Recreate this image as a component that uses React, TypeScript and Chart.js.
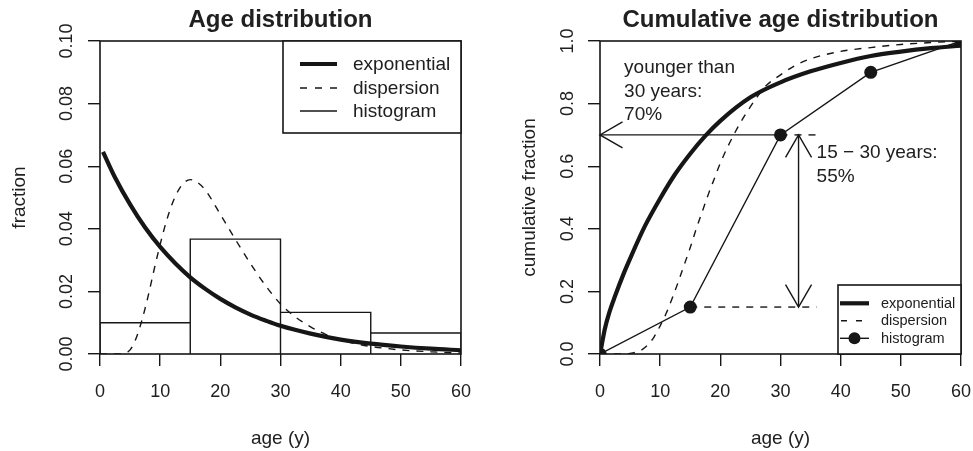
import React, { useEffect, useRef } from 'react';
import { Chart, registerables } from 'chart.js';

Chart.register(...registerables);

const FONT = '"Liberation Sans", Arial, Helvetica, sans-serif';
const INK = '#161616';
const TXT = '#202020';

// ---------- Left panel: age distribution (density) ----------
const histEdges = [0, 15, 30, 45, 60];
const histDensity = [0.01, 0.0367, 0.0133, 0.0067];

const expAge = [0.5, 2.5, 5, 7.5, 10, 12.5, 15, 17.5, 20, 22.5, 25, 27.5, 30, 35, 40, 45, 50, 55, 60];
const expDensity = [0.0646, 0.0564, 0.0478, 0.0404, 0.0342, 0.029, 0.0245, 0.0208, 0.0176, 0.0149, 0.0126, 0.0107, 0.009, 0.0065, 0.0046, 0.0033, 0.0024, 0.0017, 0.0012];

const dispAge = [0, 3, 4, 5, 6, 7, 8, 9, 10, 11, 12, 13, 14, 15, 16, 17.5, 20, 22.5, 25, 27.5, 30, 32.5, 35, 37.5, 40, 42.5, 45, 47.5, 50, 55, 60];
const dispDensity = [0, 0, 0.0002, 0.0013, 0.005, 0.011, 0.0185, 0.027, 0.035, 0.0422, 0.048, 0.0522, 0.0548, 0.0557, 0.0551, 0.0524, 0.0446, 0.0366, 0.0289, 0.0219, 0.016, 0.0118, 0.0087, 0.0063, 0.0045, 0.0033, 0.0024, 0.0018, 0.0013, 0.0007, 0.0003];

// ---------- Right panel: cumulative distribution ----------
const cumExpAge = [0, 0.3, 0.8, 1.5, 2.5, 4, 5, 7.5, 10, 12.5, 15, 17.5, 20, 25, 30, 35, 40, 45, 50, 55, 60];
const cumExpFrac = [0, 0.03, 0.08, 0.13, 0.185, 0.26, 0.305, 0.41, 0.497, 0.575, 0.64, 0.697, 0.745, 0.82, 0.868, 0.903, 0.93, 0.952, 0.966, 0.977, 0.985];

const cumDispAge = [0, 4, 5, 6, 7, 8, 9, 10, 11, 12, 13, 14, 15, 16, 17, 18, 19, 20, 22.5, 25, 27.5, 30, 32.5, 35, 40, 45, 50, 55, 60];
const cumDispFrac = [0, 0, 0.002, 0.006, 0.014, 0.03, 0.055, 0.09, 0.13, 0.178, 0.23, 0.285, 0.34, 0.4, 0.455, 0.51, 0.56, 0.61, 0.71, 0.79, 0.855, 0.892, 0.922, 0.943, 0.967, 0.979, 0.989, 0.995, 1.0];

const histCumAge = [0, 15, 30, 45, 60];
const histCumFrac = [0, 0.15, 0.7, 0.9, 1.0];

// ---------- Axes ----------
const AGE_TICKS = [0, 10, 20, 30, 40, 50, 60];
const FRACTION_TICKS = [0, 0.02, 0.04, 0.06, 0.08, 0.1];
const FRACTION_LABELS = ['0.00', '0.02', '0.04', '0.06', '0.08', '0.10'];
const CUM_TICKS = [0, 0.2, 0.4, 0.6, 0.8, 1.0];
const CUM_LABELS = ['0.0', '0.2', '0.4', '0.6', '0.8', '1.0'];

const LEGEND_LABELS = ['exponential', 'dispersion', 'histogram'];

// ---------- Annotations (data units) ----------
const YOUNGER_TEXT = ['younger than', '30 years:', '70%'];
const YOUNGER_TEXT_AT = { age: 4, frac: 0.897 };
const RANGE_TEXT = ['15 \u2212 30 years:', '55%'];
const RANGE_TEXT_AT = { age: 36, frac: 0.625 };
const YOUNGER_FROM_AGE = 30;
const YOUNGER_FRAC = 0.7;
const RANGE_LOW_AGE = 15;
const RANGE_LOW_FRAC = 0.15;
const RANGE_ARROW_AGE = 33;
const GUIDE_END_AGE = 36;

const pts = (xs: number[], ys: number[]) => xs.map((x, i) => ({ x, y: ys[i] }));

const histOutline: { x: number; y: number }[] = [];
histDensity.forEach((h, i) => {
  histOutline.push(
    { x: histEdges[i], y: 0 },
    { x: histEdges[i], y: h },
    { x: histEdges[i + 1], y: h },
    { x: histEdges[i + 1], y: 0 }
  );
});

function arrowHead(ctx: CanvasRenderingContext2D, tx: number, ty: number, fx: number, fy: number) {
  const len = 26;
  const ang = Math.PI / 6;
  const a = Math.atan2(ty - fy, tx - fx);
  ctx.beginPath();
  ctx.moveTo(tx - len * Math.cos(a - ang), ty - len * Math.sin(a - ang));
  ctx.lineTo(tx, ty);
  ctx.lineTo(tx - len * Math.cos(a + ang), ty - len * Math.sin(a + ang));
  ctx.stroke();
}

function line(ctx: CanvasRenderingContext2D, x1: number, y1: number, x2: number, y2: number) {
  ctx.beginPath();
  ctx.moveTo(x1, y1);
  ctx.lineTo(x2, y2);
  ctx.stroke();
}

function axes(yMin: number, yMax: number, yTicks: number[], plotLeft: number) {
  const grid = { drawOnChartArea: false, drawTicks: true, tickLength: 12, color: INK, lineWidth: 1.4 };
  return {
    x: {
      type: 'linear',
      position: 'bottom',
      min: 0,
      max: 60,
      afterBuildTicks: (s: any) => {
        s.ticks = AGE_TICKS.map((v) => ({ value: v }));
      },
      afterFit: (s: any) => {
        s.height = 97;
        s.paddingLeft = 0;
        s.paddingRight = 0;
      },
      grid,
      border: { display: false },
      ticks: {
        color: TXT,
        font: { family: FONT, size: 18 },
        padding: 15,
        maxRotation: 0,
        minRotation: 0,
        autoSkip: false,
        callback: (v: any) => String(v),
      },
    },
    y: {
      type: 'linear',
      position: 'left',
      min: yMin,
      max: yMax,
      afterBuildTicks: (s: any) => {
        s.ticks = yTicks.map((v) => ({ value: v }));
      },
      afterFit: (s: any) => {
        s.width = plotLeft;
        s.paddingTop = 0;
        s.paddingBottom = 0;
      },
      grid,
      border: { display: false },
      ticks: { display: false },
    },
  };
}

type Decor = {
  title: string;
  yTitle: string;
  yTitleBase: number;
  yTickBase: number;
  yTicks: number[];
  yLabels: string[];
  extra: (chart: any) => void;
};

function decorPlugin(d: Decor) {
  return {
    id: 'decor',
    afterDraw(chart: any) {
      const { ctx, chartArea: a, scales } = chart;
      const y = scales.y;
      ctx.save();
      // plot box
      ctx.strokeStyle = INK;
      ctx.lineWidth = 1.6;
      ctx.setLineDash([]);
      ctx.strokeRect(a.left, a.top, a.right - a.left, a.bottom - a.top);
      const cx = (a.left + a.right) / 2;
      ctx.fillStyle = TXT;
      // title
      ctx.font = `bold 24px ${FONT}`;
      ctx.textAlign = 'center';
      ctx.textBaseline = 'alphabetic';
      ctx.fillText(d.title, cx, 27);
      // x title
      ctx.font = `19px ${FONT}`;
      ctx.fillText('age (y)', cx, 443.5);
      // y title
      ctx.save();
      ctx.translate(d.yTitleBase, (a.top + a.bottom) / 2);
      ctx.rotate(-Math.PI / 2);
      ctx.fillText(d.yTitle, 0, 0);
      ctx.restore();
      // y tick labels
      ctx.font = `18px ${FONT}`;
      d.yTicks.forEach((v, i) => {
        ctx.save();
        ctx.translate(d.yTickBase, y.getPixelForValue(v));
        ctx.rotate(-Math.PI / 2);
        ctx.fillText(d.yLabels[i], 0, 0);
        ctx.restore();
      });
      d.extra(chart);
      ctx.restore();
    },
  };
}

function leftConfig(): any {
  return {
    type: 'scatter',
    data: {
      datasets: [
        {
          label: 'exponential',
          data: pts(expAge, expDensity),
          showLine: true,
          borderColor: INK,
          borderWidth: 4.2,
          pointRadius: 0,
          cubicInterpolationMode: 'monotone',
          clip: 0,
        },
        {
          label: 'dispersion',
          data: pts(dispAge, dispDensity),
          showLine: true,
          borderColor: INK,
          borderWidth: 1.4,
          borderDash: [7, 7],
          pointRadius: 0,
          cubicInterpolationMode: 'monotone',
          clip: 0,
        },
        {
          label: 'histogram',
          data: histOutline,
          showLine: true,
          borderColor: INK,
          borderWidth: 1.4,
          pointRadius: 0,
          tension: 0,
          clip: 0,
        },
      ],
    },
    options: {
      responsive: false,
      animation: false,
      events: [],
      layout: { padding: { left: 0, right: 29, top: 41, bottom: 0 } },
      plugins: { legend: { display: false }, tooltip: { enabled: false }, title: { display: false } },
      scales: axes(0, 0.1, FRACTION_TICKS, 100),
    },
    plugins: [
      decorPlugin({
        title: 'Age distribution',
        yTitle: 'fraction',
        yTitleBase: 25,
        yTickBase: 71.5,
        yTicks: FRACTION_TICKS,
        yLabels: FRACTION_LABELS,
        extra: (chart: any) => {
          const { ctx, chartArea: a } = chart;
          const w = 178;
          const h = 92;
          const bx = a.right - w;
          const by = a.top;
          ctx.fillStyle = '#ffffff';
          ctx.fillRect(bx, by, w, h);
          ctx.strokeStyle = INK;
          ctx.lineWidth = 1.6;
          ctx.strokeRect(bx, by, w, h);
          const rows = [23, 47, 70];
          const widths = [4.2, 1.4, 1.4];
          const dashes = [[], [7, 8], []];
          rows.forEach((r, i) => {
            ctx.lineWidth = widths[i];
            ctx.setLineDash(dashes[i]);
            line(ctx, bx + 17, by + r, bx + 54, by + r);
          });
          ctx.setLineDash([]);
          ctx.fillStyle = TXT;
          ctx.font = `19px ${FONT}`;
          ctx.textAlign = 'left';
          ctx.textBaseline = 'middle';
          rows.forEach((r, i) => ctx.fillText(LEGEND_LABELS[i], bx + 70, by + r + 1));
        },
      }),
    ],
  };
}

function rightConfig(): any {
  return {
    type: 'scatter',
    data: {
      datasets: [
        {
          label: 'histogram',
          data: pts(histCumAge, histCumFrac),
          showLine: true,
          borderColor: INK,
          borderWidth: 1.4,
          pointRadius: 6.5,
          pointBackgroundColor: INK,
          pointBorderWidth: 0,
          tension: 0,
          clip: 0,
        },
        {
          label: 'dispersion',
          data: pts(cumDispAge, cumDispFrac),
          showLine: true,
          borderColor: INK,
          borderWidth: 1.4,
          borderDash: [7, 7],
          pointRadius: 0,
          cubicInterpolationMode: 'monotone',
          clip: 0,
        },
        {
          label: 'exponential',
          data: pts(cumExpAge, cumExpFrac),
          showLine: true,
          borderColor: INK,
          borderWidth: 4.2,
          pointRadius: 0,
          cubicInterpolationMode: 'monotone',
          clip: 0,
        },
      ],
    },
    options: {
      responsive: false,
      animation: false,
      events: [],
      layout: { padding: { left: 0, right: 12, top: 41, bottom: 0 } },
      plugins: { legend: { display: false }, tooltip: { enabled: false }, title: { display: false } },
      scales: axes(0, 1, CUM_TICKS, 110),
    },
    plugins: [
      decorPlugin({
        title: 'Cumulative age distribution',
        yTitle: 'cumulative fraction',
        yTitleBase: 45,
        yTickBase: 83.3,
        yTicks: CUM_TICKS,
        yLabels: CUM_LABELS,
        extra: (chart: any) => {
          const { ctx, chartArea: a, scales } = chart;
          const px = (v: number) => scales.x.getPixelForValue(v);
          const py = (v: number) => scales.y.getPixelForValue(v);
          ctx.strokeStyle = INK;
          ctx.lineWidth = 1.4;
          // guides
          ctx.setLineDash([7, 7]);
          line(ctx, px(YOUNGER_FROM_AGE), py(YOUNGER_FRAC), px(GUIDE_END_AGE), py(YOUNGER_FRAC));
          line(ctx, px(RANGE_LOW_AGE), py(RANGE_LOW_FRAC), px(GUIDE_END_AGE), py(RANGE_LOW_FRAC));
          ctx.setLineDash([]);
          // horizontal arrow to the axis
          line(ctx, px(YOUNGER_FROM_AGE), py(YOUNGER_FRAC), px(0), py(YOUNGER_FRAC));
          arrowHead(ctx, px(0), py(YOUNGER_FRAC), px(YOUNGER_FROM_AGE), py(YOUNGER_FRAC));
          // vertical double arrow
          const ax = px(RANGE_ARROW_AGE);
          line(ctx, ax, py(RANGE_LOW_FRAC), ax, py(YOUNGER_FRAC));
          arrowHead(ctx, ax, py(YOUNGER_FRAC), ax, py(RANGE_LOW_FRAC));
          arrowHead(ctx, ax, py(RANGE_LOW_FRAC), ax, py(YOUNGER_FRAC));
          // texts
          ctx.fillStyle = TXT;
          ctx.font = `19px ${FONT}`;
          ctx.textAlign = 'left';
          ctx.textBaseline = 'alphabetic';
          YOUNGER_TEXT.forEach((t, i) => ctx.fillText(t, px(YOUNGER_TEXT_AT.age), py(YOUNGER_TEXT_AT.frac) + i * 23.3));
          RANGE_TEXT.forEach((t, i) => ctx.fillText(t, px(RANGE_TEXT_AT.age), py(RANGE_TEXT_AT.frac) + i * 23.3));
          // legend (bottom right)
          const w = 123;
          const h = 69;
          const bx = a.right - w;
          const by = a.bottom - h;
          ctx.fillStyle = '#ffffff';
          ctx.fillRect(bx, by, w, h);
          ctx.strokeStyle = INK;
          ctx.lineWidth = 1.6;
          ctx.strokeRect(bx, by, w, h);
          const rows = [18.3, 35.7, 53.3];
          ctx.lineWidth = 4.2;
          line(ctx, bx + 2, by + rows[0], bx + 31, by + rows[0]);
          ctx.lineWidth = 1.4;
          ctx.setLineDash([6, 9]);
          line(ctx, bx + 3, by + rows[1], bx + 24, by + rows[1]);
          ctx.setLineDash([]);
          line(ctx, bx + 2, by + rows[2], bx + 31, by + rows[2]);
          ctx.fillStyle = INK;
          ctx.beginPath();
          ctx.arc(bx + 16.5, by + rows[2], 6, 0, Math.PI * 2);
          ctx.fill();
          ctx.fillStyle = TXT;
          ctx.font = `14.5px ${FONT}`;
          ctx.textBaseline = 'middle';
          rows.forEach((r, i) => ctx.fillText(LEGEND_LABELS[i], bx + 43, by + r + 0.5));
        },
      }),
    ],
  };
}

export default function App() {
  const leftRef = useRef<HTMLCanvasElement>(null);
  const rightRef = useRef<HTMLCanvasElement>(null);
  useEffect(() => {
    Chart.defaults.font.family = FONT;
    const c1 = new Chart(leftRef.current as HTMLCanvasElement, leftConfig());
    const c2 = new Chart(rightRef.current as HTMLCanvasElement, rightConfig());
    return () => {
      c1.destroy();
      c2.destroy();
    };
  }, []);
  return (
    <div style={{ position: 'fixed', left: 0, top: 0, width: 973, height: 451, background: '#ffffff' }}>
      <canvas
        ref={leftRef}
        width={490}
        height={451}
        style={{ position: 'absolute', left: 0, top: 0, width: 490, height: 451 }}
      />
      <canvas
        ref={rightRef}
        width={483}
        height={451}
        style={{ position: 'absolute', left: 490, top: 0, width: 483, height: 451 }}
      />
    </div>
  );
}
